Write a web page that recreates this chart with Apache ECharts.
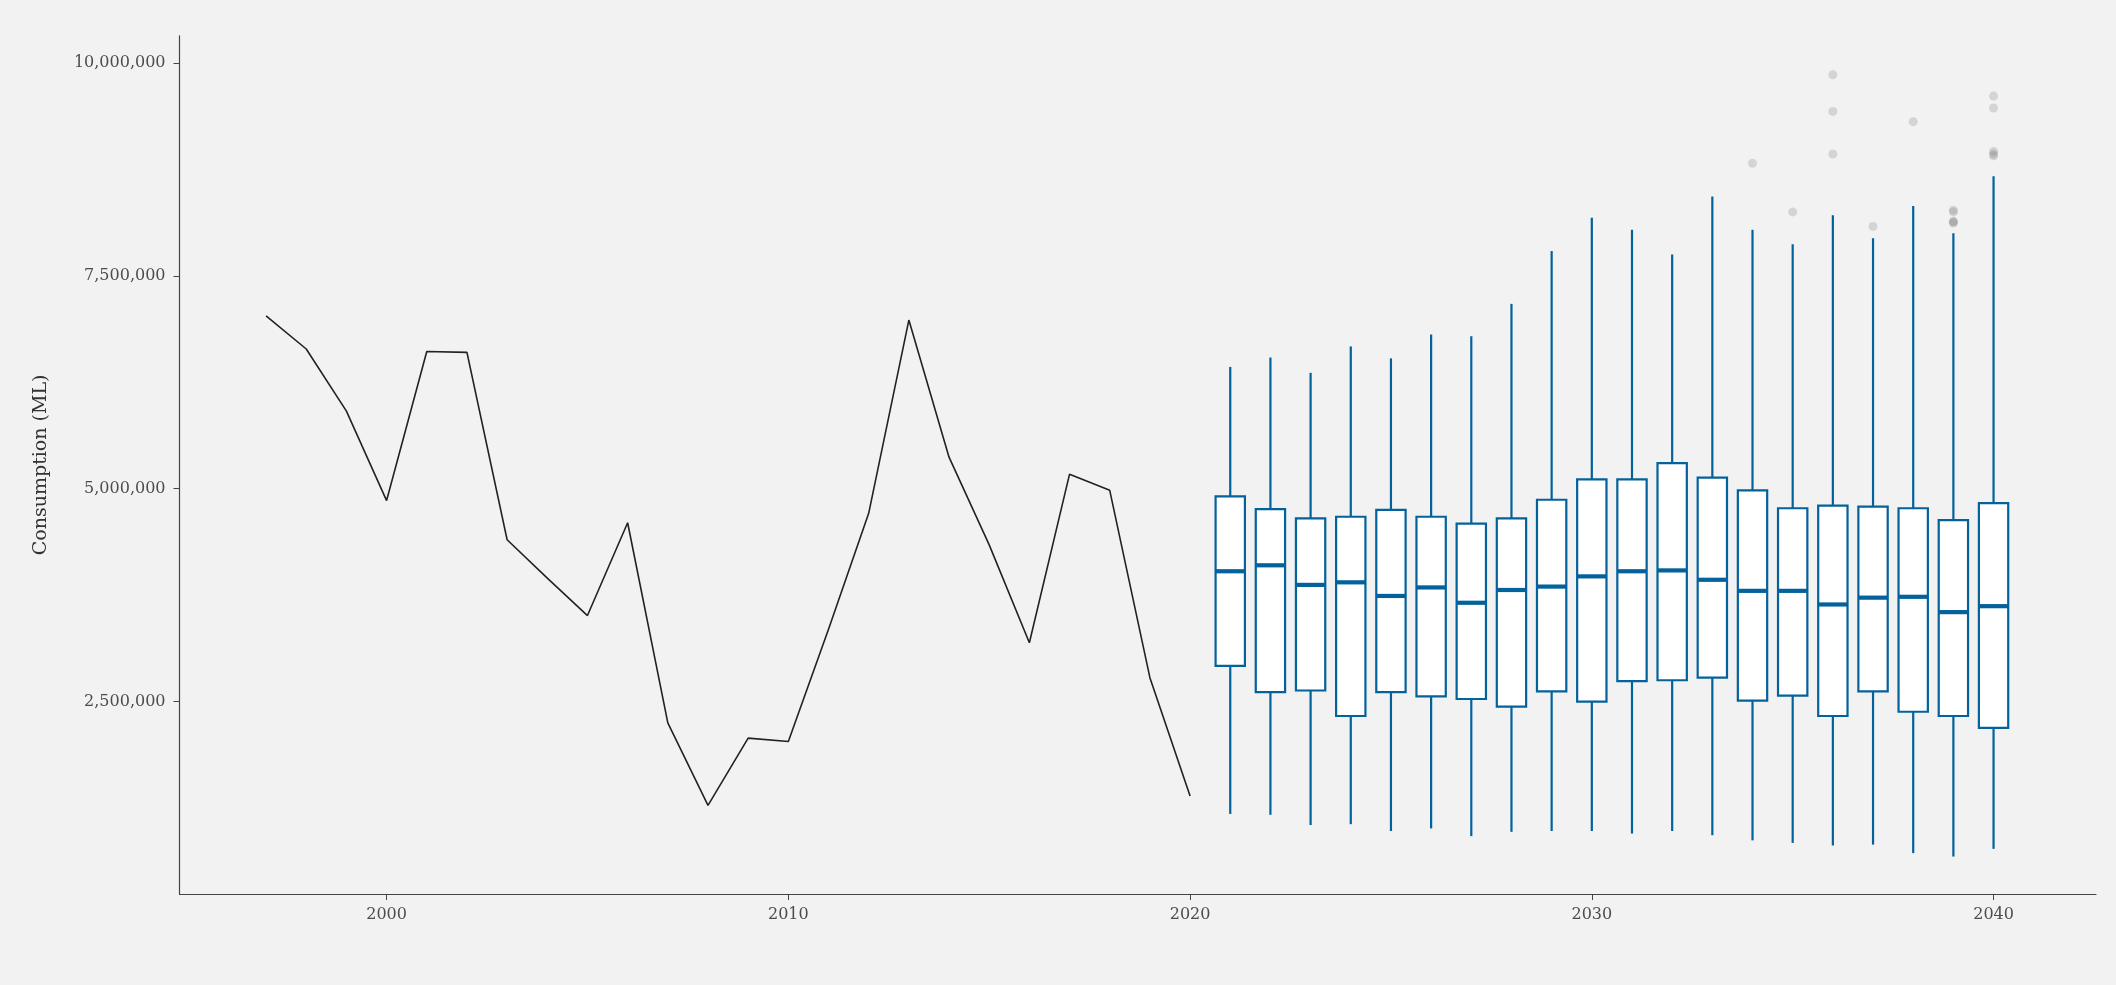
<!DOCTYPE html>
<html>
<head>
<meta charset="utf-8">
<script src="https://cdn.jsdelivr.net/npm/echarts@6/dist/echarts.min.js"></script>
<style>
html,body{margin:0;padding:0;background:#f2f2f2;}
#chart{width:2116px;height:985px;}
</style>
</head>
<body>
<div id="chart"></div>
<script>
// Historical consumption (ML)
var histYears = [1997,1998,1999,2000,2001,2002,2003,2004,2005,2006,2007,2008,2009,2010,2011,2012,2013,2014,2015,2016,2017,2018,2019,2020];
var histValues = [7030000,6640000,5910000,4860000,6610000,6600000,4400000,3950000,3510000,4600000,2250000,1280000,2070000,2030000,3350000,4710000,6980000,5370000,4340000,3190000,5170000,4980000,2780000,1390000];

// Projected distribution (box plots)
var boxYears   = [2021,2022,2023,2024,2025,2026,2027,2028,2029,2030,2031,2032,2033,2034,2035,2036,2037,2038,2039,2040];
var whiskerLow = [1180000,1170000,1050000,1060000,980000,1010000,920000,970000,980000,980000,950000,980000,930000,870000,840000,810000,820000,720000,680000,770000];
var q1Values   = [2920000,2610000,2630000,2330000,2610000,2560000,2530000,2440000,2620000,2500000,2740000,2750000,2780000,2510000,2570000,2330000,2620000,2380000,2330000,2190000];
var medians    = [4030000,4100000,3870000,3900000,3740000,3840000,3660000,3810000,3850000,3970000,4030000,4040000,3930000,3800000,3800000,3640000,3720000,3730000,3550000,3620000];
var q3Values   = [4910000,4760000,4650000,4670000,4750000,4670000,4590000,4650000,4870000,5110000,5110000,5300000,5130000,4980000,4770000,4800000,4790000,4770000,4630000,4830000];
var whiskerHigh= [6430000,6540000,6360000,6670000,6530000,6810000,6790000,7170000,7790000,8180000,8040000,7750000,8430000,8040000,7870000,8210000,7940000,8320000,8000000,8670000];

// Outliers
var outlierYears  = [2034,2035,2036,2036,2036,2037,2038,2039,2039,2039,2039,2039,2040,2040,2040,2040,2040];
var outlierValues = [8820000,8250000,9860000,9430000,8930000,8080000,9310000,8270000,8250000,8140000,8130000,8120000,9610000,9470000,8960000,8930000,8910000];

var xTicks = [2000,2010,2020,2030,2040];
var yTicks = [2500000,5000000,7500000,10000000];

var BLUE = '#03619b';
var FONT = 'DejaVu Serif';

var lineData = histYears.map(function(y,i){return [y, histValues[i]];});
var boxData = boxYears.map(function(y,i){return [y, whiskerLow[i], q1Values[i], medians[i], q3Values[i], whiskerHigh[i]];});
var outData = outlierYears.map(function(y,i){return [y, outlierValues[i]];});

var chart = echarts.init(document.getElementById('chart'), null, {renderer:'canvas'});
chart.setOption({
  backgroundColor: '#f2f2f2',
  animation: false,
  grid: {left: 179.5, right: 20, top: 35.8, bottom: 91, containLabel: false},
  xAxis: {
    type: 'value', min: 1994.845, max: 2042.55,
    axisLine: {show: true, lineStyle: {color: '#444', width: 1.2}},
    axisTick: {show: true, length: 6, lineStyle: {color: '#444'}, customValues: xTicks},
    axisLabel: {customValues: xTicks, margin: 13, color: '#4d4d4d', fontFamily: FONT, fontSize: 16,
      formatter: function(v){return String(v);}},
    splitLine: {show: false}
  },
  yAxis: {
    type: 'value', min: 240000, max: 10318000,
    name: 'Consumption (ML)', nameLocation: 'middle', nameGap: 129, nameRotate: 90,
    nameTextStyle: {color: '#333', fontFamily: FONT, fontSize: 19},
    axisLine: {show: true, lineStyle: {color: '#444', width: 1.2}},
    axisTick: {show: true, length: 6, lineStyle: {color: '#444'}, customValues: yTicks},
    axisLabel: {customValues: yTicks, margin: 14, color: '#4d4d4d', fontFamily: FONT, fontSize: 16,
      formatter: function(v){return Number(v).toLocaleString('en-US');}},
    splitLine: {show: false}
  },
  series: [
    {
      type: 'line', data: lineData, symbol: 'none',
      lineStyle: {color: '#222', width: 1.6}
    },
    {
      type: 'custom', data: boxData,
      encode: {x: 0, y: [1,2,3,4,5]},
      renderItem: function(params, api){
        var x = api.value(0);
        var lo = api.coord([x, api.value(1)]);
        var q1 = api.coord([x, api.value(2)]);
        var md = api.coord([x, api.value(3)]);
        var q3 = api.coord([x, api.value(4)]);
        var hi = api.coord([x, api.value(5)]);
        var w = api.size([0.73, 0])[0];
        var cx = lo[0];
        return {type: 'group', children: [
          {type: 'line', shape: {x1: cx, y1: hi[1], x2: cx, y2: q3[1]}, style: {stroke: BLUE, lineWidth: 2.2}},
          {type: 'line', shape: {x1: cx, y1: q1[1], x2: cx, y2: lo[1]}, style: {stroke: BLUE, lineWidth: 2.2}},
          {type: 'rect', shape: {x: cx - w/2, y: q3[1], width: w, height: q1[1] - q3[1]}, style: {fill: '#ffffff', stroke: BLUE, lineWidth: 2.2}},
          {type: 'line', shape: {x1: cx - w/2, y1: md[1], x2: cx + w/2, y2: md[1]}, style: {stroke: BLUE, lineWidth: 4.2}}
        ]};
      }
    },
    {
      type: 'scatter', data: outData, symbol: 'circle', symbolSize: 9,
      itemStyle: {color: 'rgba(120,120,120,0.3)'}
    }
  ]
});
</script>
</body>
</html>
